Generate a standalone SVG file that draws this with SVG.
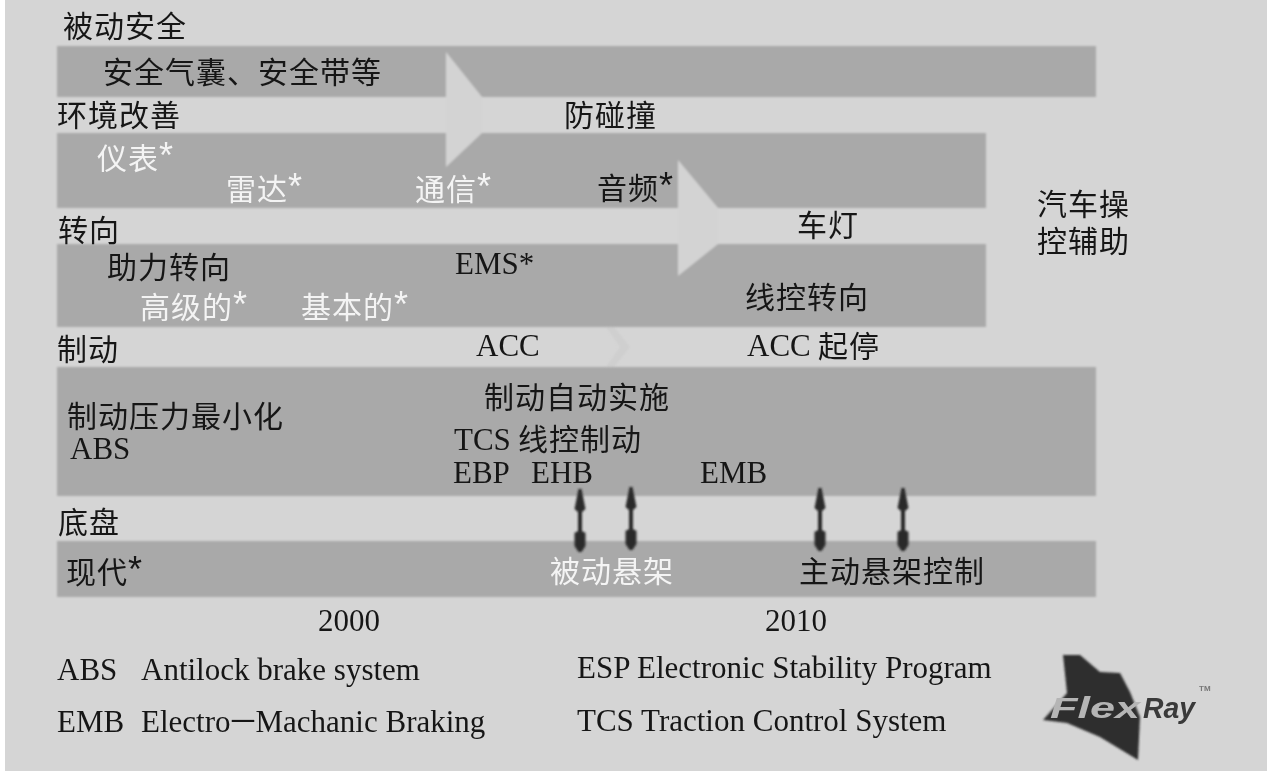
<svg xmlns="http://www.w3.org/2000/svg" width="1267" height="773" viewBox="0 0 1267 773">
<defs>
<filter id="soft" x="-5%" y="-5%" width="110%" height="110%"><feGaussianBlur stdDeviation="0.8"/></filter>
<filter id="soft2" x="-50%" y="-10%" width="200%" height="120%"><feGaussianBlur stdDeviation="0.9"/></filter>
<path id="da" d="M-1.5 0L1.5 0L5.5 20L2 23V42L5.5 44V57L1.5 63H-1.5L-5.5 57V44L-2 42V23L-5.5 20Z"/>
</defs>
<style>
text{font-family:"Liberation Serif","Noto Sans CJK SC",sans-serif;fill:#161616}
.c{font-size:30px;letter-spacing:1px}
.l{font-size:31px}
.s{font-size:36px;font-family:"Liberation Sans",sans-serif}
.w{fill:#f4f4f4}
.bar{fill:#a9a9a9}
.hl{fill:#d3d3d3}
.logo{fill:#2e2e2e}
.lt{font-family:"Liberation Sans",sans-serif;font-size:30px;font-style:italic;font-weight:700}
</style>
<rect width="1267" height="773" fill="#fff"/>
<rect x="5" y="0" width="1262" height="771" fill="#d5d5d5"/>
<g id="bars" filter="url(#soft)">
<rect class="bar" x="57" y="46" width="1039" height="51"/>
<rect class="bar" x="57" y="133" width="929" height="75"/>
<rect class="bar" x="57" y="244" width="929" height="83"/>
<rect class="bar" x="57" y="367" width="1039" height="129"/>
<rect class="bar" x="57" y="541" width="1039" height="56"/>
<path class="hl" d="M446 52L482 97V133L446 167Z"/>
<path class="hl" d="M678 160L718 208V244L678 276Z"/>
<path d="M606 327H614L630 347L614 367H606L620 347Z" fill="#cfcfcf"/>
</g>
<g id="connectors" fill="#2a2a2a" filter="url(#soft2)">
<use href="#da" x="580" y="489"/>
<use href="#da" x="631" y="487"/>
<use href="#da" x="820" y="488"/>
<use href="#da" x="903" y="488"/>
</g>
<g id="passive-safety">
<text class="c" x="63" y="37">被动安全</text>
<text class="c" x="103" y="83">安全气囊、安全带等</text>
</g>
<g id="environment">
<text class="c" x="57" y="126">环境改善</text>
<text class="c" x="564" y="126">防碰撞</text>
<text class="c w" x="97" y="169">仪表<tspan class="s w" dy="-1">*</tspan></text>
<text class="c w" x="226" y="200">雷达<tspan class="s w" dy="-1">*</tspan></text>
<text class="c w" x="415" y="200">通信<tspan class="s w" dy="-1">*</tspan></text>
<text class="c" x="597" y="199">音频<tspan class="s" dy="-1">*</tspan></text>
<text class="c" x="797" y="236">车灯</text>
</g>
<g id="steering">
<text class="c" x="58" y="241">转向</text>
<text class="c" x="107" y="278">助力转向</text>
<text class="l" x="455" y="274">EMS*</text>
<text class="c w" x="140" y="318">高级的<tspan class="s w" dy="-1">*</tspan></text>
<text class="c w" x="301" y="318">基本的<tspan class="s w" dy="-1">*</tspan></text>
<text class="c" x="745" y="308">线控转向</text>
</g>
<g id="braking">
<text class="c" x="57" y="360">制动</text>
<text class="l" x="476" y="356">ACC</text>
<text class="l" x="747" y="356">ACC</text>
<text class="c" x="818" y="357">起停</text>
<text class="c" x="484" y="408">制动自动实施</text>
<text class="c" x="67" y="427">制动压力最小化</text>
<text class="l" x="70" y="459">ABS</text>
<text class="l" x="454" y="450">TCS</text>
<text class="c" x="518" y="450">线控制动</text>
<text class="l" x="453" y="483">EBP</text>
<text class="l" x="531" y="483">EHB</text>
<text class="l" x="700" y="483">EMB</text>
</g>
<g id="chassis">
<text class="c" x="58" y="533">底盘</text>
<text class="c" x="66" y="583">现代<tspan class="s" dy="-1">*</tspan></text>
<text class="c w" x="550" y="582">被动悬架</text>
<text class="c" x="799" y="582">主动悬架控制</text>
</g>
<g id="vehicle-assist">
<text class="c" x="1037" y="215">汽车操</text>
<text class="c" x="1037" y="252">控辅助</text>
</g>
<g id="timeline">
<text class="l" x="318" y="631">2000</text>
<text class="l" x="765" y="631">2010</text>
</g>
<g id="legend">
<text class="l" x="57" y="680">ABS</text>
<text class="l" x="141" y="680">Antilock brake system</text>
<text class="l" x="577" y="678">ESP Electronic Stability Program</text>
<text class="l" x="57" y="732">EMB</text>
<text class="l" x="141" y="732">Electro<tspan dx="-3">－</tspan><tspan dx="-3">Machanic Braking</tspan></text>
<text class="l" x="577" y="731">TCS Traction Control System</text>
</g>
<g id="flexray-logo">
<path class="logo" filter="url(#soft2)" d="M1063 655L1080 655L1100 672L1120 673L1130 692L1140 717L1138 760L1100 737L1067 723L1043 720L1067 693Z"/>
<text class="lt" x="1050" y="718" textLength="90" lengthAdjust="spacingAndGlyphs" style="fill:#b5b5b5">Flex</text>
<text class="lt" x="1143" y="718" textLength="52" lengthAdjust="spacingAndGlyphs" style="fill:#3a3a3a">Ray</text>
<text x="1199" y="691" style="font-family:'Liberation Sans',sans-serif;font-size:8px;font-weight:700;fill:#777">TM</text>
</g>
</svg>
